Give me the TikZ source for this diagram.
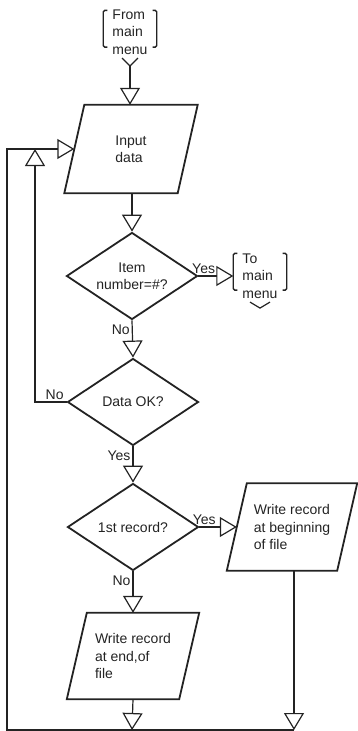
\documentclass[tikz,border=0pt]{standalone}
\usepackage{fontspec}
\setmainfont{Liberation Sans}
\usepackage{tikz}
\usetikzlibrary{shapes.geometric, arrows.meta, positioning}
\definecolor{inkgray}{RGB}{35,35,35}

\begin{document}
\begin{tikzpicture}[
    x=1pt, y=-1pt,
    every node/.style={text=inkgray, font=\fontsize{14}{17.5}\selectfont},
    iobox/.style={rectangle, minimum width=113pt, minimum height=88pt, inner sep=0pt, align=left},
    frame/.style={draw=inkgray, line width=1.8pt},
    decision/.style={diamond, aspect=1.5, draw=inkgray, line width=1.8pt, minimum width=131pt, minimum height=87pt, inner sep=0pt, align=center},
    term/.style={align=left, inner xsep=9pt, inner ysep=0pt},
    bracket/.style={draw=inkgray, line width=1.4pt, rounded corners=1.5pt},
    flow/.style={draw=inkgray, line width=1.2pt, -{Triangle[open, length=17pt, width=20pt]}},
    line/.style={draw=inkgray, line width=1.2pt},
    lbl/.style={inner sep=2pt}
]
    \useasboundingbox (0,0) rectangle (357,731);

    % Entry from main menu
    \node[term] (from) at (130,32) {From\\main\\menu};
    \draw[bracket] ([xshift=4pt, yshift=-1pt]from.north west) -- ([yshift=-1pt]from.north west) -- ([yshift=7.5pt]from.south west) -- ([xshift=4pt, yshift=7.5pt]from.south west);
    \draw[bracket] ([xshift=-4pt, yshift=-1pt]from.north east) -- ([yshift=-1pt]from.north east) -- ([yshift=7.5pt]from.south east) -- ([xshift=-4pt, yshift=7.5pt]from.south east);
    \draw[line] ([xshift=-8pt, yshift=-3.5pt]from.south) -- ([yshift=-11.5pt]from.south) coordinate (fromv) -- ([xshift=8pt, yshift=-3.5pt]from.south);

    % Input
    \node[iobox] (input) at (131,149) {Input\\data};

    % Item number test and exit
    \node[decision] (item) at (132,276) {Item\\number=\#?};
    \node[term] (tomenu) at (260,276) {To\\main\\menu};
    \draw[bracket] ([xshift=4pt]tomenu.north west) -- (tomenu.north west) -- ([yshift=8.5pt]tomenu.south west) -- ([xshift=4pt, yshift=8.5pt]tomenu.south west);
    \draw[bracket] ([xshift=-4pt]tomenu.north east) -- (tomenu.north east) -- ([yshift=8.5pt]tomenu.south east) -- ([xshift=-4pt, yshift=8.5pt]tomenu.south east);
    \draw[line] ([xshift=-10pt, yshift=-3.5pt]tomenu.south) -- ([yshift=-9.5pt]tomenu.south) -- ([xshift=10pt, yshift=-3.5pt]tomenu.south);

    % Checks
    \node[decision] (dataok) at (133,402) {Data OK?};
    \node[decision] (first) at (133,527) {1st record?};

    % Writing
    \node[iobox, minimum width=110pt, minimum height=87pt] (writebeg) at (292,527) {Write record\\at beginning\\of file};
    \node[iobox, minimum width=112pt, minimum height=86pt] (writeend) at (133,656) {Write record\\at end,of\\file};

    % Slanted frames
    \foreach \n in {input, writebeg, writeend}
        \draw[frame] ([xshift=10pt]\n.north west) -- ([xshift=10pt]\n.north east) -- ([xshift=-10pt]\n.south east) -- ([xshift=-10pt]\n.south west) -- cycle;

    % Loop points
    \coordinate (join) at (35,149);
    \coordinate (corner) at (7,730);
    \coordinate (endl) at (132,730);
    \coordinate (endr) at (294,730);

    % Arrows
    \draw[flow] (fromv) -- (fromv |- input.north);
    \draw[flow] (item.north |- input.south) -- (item.north);
    \draw[flow] (item.east) -- node[lbl, pos=0.15, above] {Yes} (item.east -| tomenu.west);
    \draw[flow] (item.south) -- node[lbl, pos=0.25, left] {No} (dataok.north);
    \draw[flow] (dataok.west) -| node[lbl, pos=0.19, above] {No} (join);
    \draw[flow] (dataok.south) -- node[lbl, pos=0.25, left] {Yes} (first.north);
    \draw[flow] (first.east) -- node[lbl, pos=0.13, above] {Yes} (writebeg.west);
    \draw[flow] (first.south) -- node[lbl, pos=0.23, left] {No} (first.south |- writeend.north);
    \draw[flow] (first.south |- writeend.south) -- (endl);
    \draw[flow] (endr |- writebeg.south) -- (endr);
    \draw[flow] (endr) -- (corner) |- (input.west);
\end{tikzpicture}
\end{document}
